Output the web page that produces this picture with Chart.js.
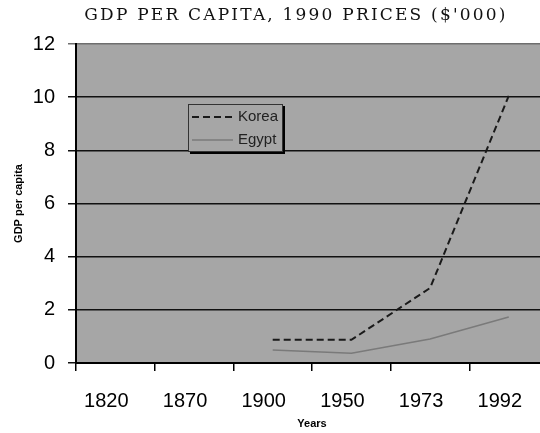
<!DOCTYPE html>
<html>
<head>
  <title>GDP per capita, 1990 prices</title>
  <script src="https://cdn.jsdelivr.net/npm/chart.js"></script>
  <style>
    body {
      margin: 0;
      background: #fff;
      overflow: hidden;
    }
    /* plot runs a few px past the window's right edge, as in the scan */
    #gdpChart {
      display: block;
    }
  </style>
</head>
<body>
  <canvas id="gdpChart" width="549" height="433"></canvas>
  <script>
    // values, $'000 at 1990 prices
    const years = ['1820', '1870', '1900', '1950', '1973', '1992'];
    const korea = [null, null, 0.87, 0.87, 2.82, 10.05];
    const egypt = [null, null, 0.49, 0.37, 0.9, 1.73];
    const yTicks = [0, 2, 4, 6, 8, 10, 12];

    const chartTitle = "GDP PER CAPITA, 1990 PRICES ($'000)";
    const plotGrey = '#a6a6a6';

    // grey plot area like the old spreadsheet chart
    const plotBackground = {
      id: 'plotBackground',
      beforeDraw(chart) {
        const { ctx, chartArea: a } = chart;
        ctx.save();
        ctx.fillStyle = plotGrey;
        ctx.fillRect(a.left, a.top, a.right - a.left, a.bottom - a.top);
        ctx.restore();
      }
    };

    const serifTitle = {
      id: 'serifTitle',
      afterDraw(chart) {
        const ctx = chart.ctx;
        ctx.save();
        ctx.font = '17px "DejaVu Serif"';
        ctx.letterSpacing = '2.2px';
        ctx.fillStyle = '#111';
        ctx.textAlign = 'center';
        ctx.textBaseline = 'middle';
        ctx.fillText(chartTitle, 296, 16);
        ctx.restore();
      }
    };

    // boxed legend with a drop shadow, sitting inside the plot
    const boxLegend = {
      id: 'boxLegend',
      afterDatasetsDraw(chart) {
        const ctx = chart.ctx;
        const x = 188, y = 104, w = 95, h = 48;
        ctx.save();
        ctx.fillStyle = '#000';
        ctx.fillRect(x + 2, y + 2, w, h);
        ctx.fillStyle = plotGrey;
        ctx.fillRect(x, y, w, h);
        ctx.strokeStyle = '#333';
        ctx.lineWidth = 1;
        ctx.strokeRect(x + 0.5, y + 0.5, w - 1, h - 1);
        ctx.font = '15px "Liberation Sans"';
        ctx.textBaseline = 'middle';
        chart.data.datasets.forEach((ds, i) => {
          const ry = y + 13 + i * 23;
          ctx.strokeStyle = ds.borderColor;
          ctx.lineWidth = ds.borderWidth;
          ctx.setLineDash(ds.borderDash || []);
          ctx.beginPath();
          ctx.moveTo(x + 4, ry);
          ctx.lineTo(x + 45, ry);
          ctx.stroke();
          ctx.setLineDash([]);
          ctx.fillStyle = '#222';
          ctx.fillText(ds.label, x + 50, ry);
        });
        ctx.restore();
      }
    };

    new Chart(document.getElementById('gdpChart'), {
      type: 'line',
      data: {
        labels: years,
        datasets: [
          {
            label: 'Korea',
            data: korea,
            borderColor: '#1a1a1a',
            borderWidth: 2,
            borderDash: [7, 4],
            pointRadius: 0,
            tension: 0
          },
          {
            label: 'Egypt',
            data: egypt,
            borderColor: '#7a7a7a',
            borderWidth: 1.5,
            pointRadius: 0,
            tension: 0
          }
        ]
      },
      options: {
        responsive: false,
        animation: false,
        layout: { padding: { top: 44, right: 0, left: 0, bottom: 0 } },
        plugins: {
          legend: { display: false },
          title: { display: false },
          tooltip: { enabled: false }
        },
        scales: {
          x: {
            offset: true,
            afterFit(scale) { scale.height = 70; },
            grid: {
              offset: true,
              drawOnChartArea: false,
              drawTicks: true,
              tickLength: 8,
              color: '#000',
              lineWidth: 1.5
            },
            border: { color: '#000', width: 2 },
            ticks: {
              color: '#000',
              font: { family: 'Liberation Sans', size: 20 },
              padding: 18,
              labelOffset: -9,
              maxRotation: 0,
              autoSkip: false
            },
            title: {
              display: true,
              text: 'Years',
              color: '#000',
              font: { family: 'Liberation Sans', size: 11, weight: 'bold' },
              padding: { top: 0, bottom: 2 }
            }
          },
          y: {
            min: yTicks[0],
            max: yTicks[yTicks.length - 1],
            afterFit(scale) { scale.width = 76; },
            afterBuildTicks(scale) {
              scale.ticks = yTicks.map(v => ({ value: v }));
            },
            grid: {
              color: c => c.tick && c.tick.value === 12 ? '#6e6e6e' : '#111',
              lineWidth: 1.5,
              tickLength: 8
            },
            border: { color: '#000', width: 2 },
            ticks: {
              color: '#000',
              font: { family: 'Liberation Sans', size: 20 },
              padding: 13
            },
            title: {
              display: true,
              text: 'GDP per capita',
              color: '#000',
              font: { family: 'Liberation Sans', size: 11, weight: 'bold' },
              padding: { top: 12, bottom: 0 }
            }
          }
        }
      },
      plugins: [plotBackground, serifTitle, boxLegend]
    });
  </script>
</body>
</html>
